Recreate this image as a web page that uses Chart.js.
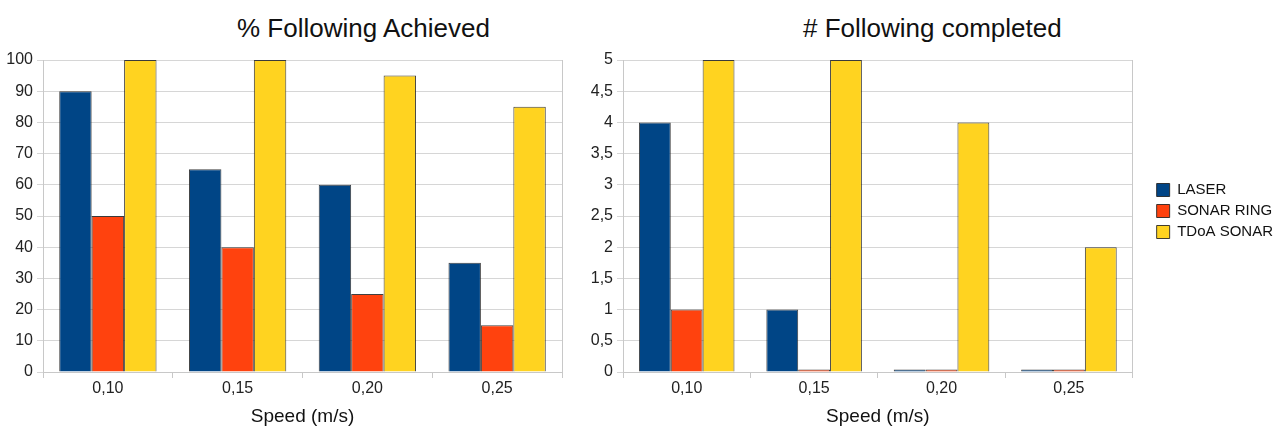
<!DOCTYPE html>
<html>
<head>
<meta charset="utf-8">
<script src="https://cdn.jsdelivr.net/npm/chart.js@4/dist/chart.umd.min.js"></script>
<style>
    body { margin: 0; background: #fff; font-family: "Liberation Sans", Arial, sans-serif; }
    #wrap { position: relative; width: 1283px; height: 428px; }
    .chart-box { position: absolute; top: 0; height: 428px; }
    .chart-title { position: absolute; top: 13px; font-size: 26px; line-height: 30px; color: #111; white-space: nowrap; }
</style>
</head>
<body>
<div id="wrap">
    <div class="chart-title" style="left: 237px;">% Following Achieved</div>
    <div class="chart-title" style="left: 803px;"># Following completed</div>
    <div class="chart-box" style="left: 0; width: 580px;"><canvas id="pctChart"></canvas></div>
    <div class="chart-box" style="left: 575px; width: 708px;"><canvas id="countChart"></canvas></div>
</div>
<script>
// --- Data ---
const speeds = ['0,10', '0,15', '0,20', '0,25'];
const seriesNames = ['LASER', 'SONAR RING', 'TDoA SONAR'];

// % Following Achieved
const laserPct = [90, 65, 60, 35];
const sonarRingPct = [50, 40, 25, 15];
const tdoaPct = [100, 100, 95, 85];

// # Following completed (the "zero" bars show as a thin sliver in the original)
const laserCount = [4, 1, 0.04, 0.04];
const sonarRingCount = [1, 0.04, 0.04, 0.04];
const tdoaCount = [5, 5, 4, 2];

const colors = ['#004586', '#ff420e', '#ffd320'];
const FONT = '"Liberation Sans", Arial, sans-serif';

// Legend is centred on the plot area, not the whole canvas height
const legendToPlot = {
    id: 'legendToPlot',
    afterLayout(chart) {
        const lg = chart.legend;
        if (!lg || !lg.options.display) return;
        lg.top = chart.chartArea.top;
        lg.bottom = chart.chartArea.bottom - 10;
        lg.height = lg.bottom - lg.top;
    }
};

function makeDatasets(arrays) {
    return arrays.map((values, i) => ({
        label: seriesNames[i],
        data: values,
        backgroundColor: colors[i],
        borderColor: 'rgba(30,30,30,0.85)',
        borderWidth: 1,
        categoryPercentage: 0.75,
        barPercentage: 1.0
    }));
}

// yWidth / gapRight fix the plot edges so both panels line up with the original
function makeOptions(max, step, showLegend, yWidth, gapRight, padRight) {
    return {
        responsive: true,
        maintainAspectRatio: false,
        animation: false,
        layout: { padding: { top: 60, right: padRight, left: 0, bottom: 0 } },
        plugins: {
            legend: {
                display: showLegend,
                position: 'right',
                maxWidth: 200,
                labels: {
                    boxWidth: 13,
                    boxHeight: 13,
                    padding: 6,
                    color: '#111',
                    font: { family: FONT, size: 15 }
                }
            },
            tooltip: { enabled: false }
        },
        scales: {
            x: {
                offset: true,
                grid: { offset: true, drawOnChartArea: false, tickLength: 6, color: '#c8c8c8' },
                border: { color: '#c8c8c8' },
                ticks: { color: '#222', font: { family: FONT, size: 16 }, padding: 1 },
                title: { display: true, text: 'Speed (m/s)', color: '#111', font: { family: FONT, size: 19 }, padding: { top: 4, bottom: 0 } },
                afterFit: axis => { axis.height = 56; }
            },
            y: {
                min: 0,
                max: max,
                ticks: {
                    stepSize: step,
                    color: '#222',
                    font: { family: FONT, size: 16 },
                    padding: 4,
                    callback: v => String(v).replace('.', ',')
                },
                grid: { color: '#d6d6d6', tickLength: 6 },
                border: { color: '#c8c8c8' },
                afterFit: axis => { axis.width = yWidth; }
            },
            yRight: {
                position: 'right',
                min: 0,
                max: max,
                ticks: { display: false },
                grid: { drawOnChartArea: false, drawTicks: false },
                border: { color: '#c8c8c8' },
                afterFit: axis => { axis.width = gapRight; }
            }
        }
    };
}

function initCharts() {
    const ctxPct = document.getElementById('pctChart').getContext('2d');
    new Chart(ctxPct, {
        type: 'bar',
        data: { labels: speeds, datasets: makeDatasets([laserPct, sonarRingPct, tdoaPct]) },
        options: makeOptions(100, 10, false, 43, 0, 18)
    });

    const ctxCount = document.getElementById('countChart').getContext('2d');
    new Chart(ctxCount, {
        type: 'bar',
        data: { labels: speeds, datasets: makeDatasets([laserCount, sonarRingCount, tdoaCount]) },
        options: makeOptions(5, 0.5, true, 48, 18, 0),
        plugins: [legendToPlot]
    });
}

window.onload = () => {
    initCharts();
};
</script>
</body>
</html>
